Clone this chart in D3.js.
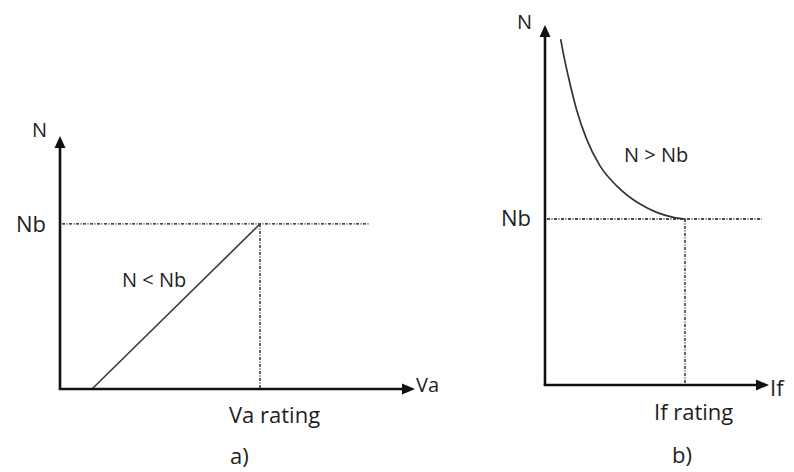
<!DOCTYPE html>
<html>
<head>
<meta charset="utf-8">
<script src="https://cdn.jsdelivr.net/npm/d3@7"></script>
<style>
  html, body { margin: 0; padding: 0; background: #fff; }
  svg { display: block; }
  text { font-family: "Open Sans", "Liberation Sans", sans-serif; fill: #1e1e1e; }
</style>
</head>
<body>
<svg id="chart" width="794" height="472"></svg>
<script>
// Per-unit values: rated armature voltage, rated field current and base speed are all 1.
const panelLabels = ["a)", "b)"];
const axisNamesA = ["Va", "N"];
const axisNamesB = ["If", "N"];
const ratingLabels = ["Va rating", "If rating"];
const baseSpeedLabel = "Nb";
const regionLabels = ["N < Nb", "N > Nb"];

const baseSpeed = 1.0;
const vaRating = 1.0;
const ifRating = 1.0;

// a) armature voltage control: speed rises linearly up to base speed
const armatureVa = [0.16, 1.0];
const armatureN = [0.0, 1.0];

// b) field weakening: speed rises above base speed as field current drops
const fieldIf = [0.112, 0.14, 0.167, 0.226, 0.298, 0.393, 0.512, 0.679, 0.798, 0.917, 1.0];
const fieldN = [2.084, 1.96, 1.857, 1.657, 1.48, 1.32, 1.2, 1.09, 1.04, 1.01, 1.0];

// axis extents (arrow tips) and reference line extents
const axisMaxA = [1.775, 1.533];
const axisMaxB = [1.6, 2.169];
const refEndA = 1.545;
const refEndB = 1.55;

const svg = d3.select("#chart");
const ink = "#111";

const xA = d3.scaleLinear().domain([0, axisMaxA[0]]).range([60, 415]);
const yA = d3.scaleLinear().domain([0, axisMaxA[1]]).range([389, 136]);
const xB = d3.scaleLinear().domain([0, 1]).range([545, 685]);
const yB = d3.scaleLinear().domain([0, axisMaxB[1]]).range([385, 25]);

function drawAxes(g, x, y, maxX, maxY) {
  const x0 = x(0), y0 = y(0), xt = x(maxX), yt = y(maxY);
  g.append("line").attr("x1", x0).attr("y1", y0).attr("x2", x0).attr("y2", yt + 8)
    .attr("stroke", ink).attr("stroke-width", 2.6);
  g.append("line").attr("x1", x0 - 1.3).attr("y1", y0).attr("x2", xt - 8).attr("y2", y0)
    .attr("stroke", ink).attr("stroke-width", 2.6);
  // arrowheads
  g.append("path")
    .attr("d", `M${x0},${yt} L${x0 - 5.5},${yt + 12} L${x0 + 5.5},${yt + 12} Z`)
    .attr("fill", ink);
  g.append("path")
    .attr("d", `M${xt},${y0} L${xt - 13},${y0 - 5.5} L${xt - 13},${y0 + 5.5} Z`)
    .attr("fill", ink);
}

function drawReference(g, x, y, rating, endX) {
  const dash = "3,1.5,1,1.5";
  g.append("line")
    .attr("x1", x(0) + 2).attr("y1", y(baseSpeed))
    .attr("x2", x(endX)).attr("y2", y(baseSpeed))
    .attr("stroke", ink).attr("stroke-width", 1.3).attr("stroke-dasharray", dash);
  g.append("line")
    .attr("x1", x(rating)).attr("y1", y(baseSpeed))
    .attr("x2", x(rating)).attr("y2", y(0) - 1)
    .attr("stroke", ink).attr("stroke-width", 1.3).attr("stroke-dasharray", dash);
}

function label(g, txt, px, py, size, anchor) {
  g.append("text").attr("x", px).attr("y", py)
    .attr("font-size", size).attr("text-anchor", anchor || "start").text(txt);
}

// ---- panel a
const ga = svg.append("g");
drawReference(ga, xA, yA, vaRating, refEndA);
ga.append("path")
  .datum(d3.zip(armatureVa, armatureN))
  .attr("d", d3.line().x(d => xA(d[0])).y(d => yA(d[1])))
  .attr("fill", "none").attr("stroke", "#3a3a3a").attr("stroke-width", 1.6);
drawAxes(ga, xA, yA, axisMaxA[0], axisMaxA[1]);

label(ga, axisNamesA[1], xA(0) - 28, yA(axisMaxA[1]) + 1, 20);
label(ga, baseSpeedLabel, xA(0) - 14, yA(baseSpeed) + 8, 22, "end");
label(ga, regionLabels[0], 122, 287, 20);
label(ga, axisNamesA[0], xA(axisMaxA[0]) + 1, yA(0) + 3, 20);
label(ga, ratingLabels[0], xA(vaRating) - 31, 423, 22);
label(ga, panelLabels[0], xA(vaRating) - 30, 464, 22);

// ---- panel b
const gb = svg.append("g");
drawReference(gb, xB, yB, ifRating, refEndB);
gb.append("path")
  .datum(d3.zip(fieldIf, fieldN))
  .attr("d", d3.line().curve(d3.curveMonotoneX).x(d => xB(d[0])).y(d => yB(d[1])))
  .attr("fill", "none").attr("stroke", "#333").attr("stroke-width", 1.7);
drawAxes(gb, xB, yB, axisMaxB[0], axisMaxB[1]);

label(gb, axisNamesB[1], xB(0) - 28, yB(axisMaxB[1]) + 4, 20);
label(gb, baseSpeedLabel, xB(0) - 14, yB(baseSpeed) + 7, 22, "end");
label(gb, regionLabels[1], 624, 162, 20);
label(gb, axisNamesB[0], xB(axisMaxB[0]) + 1, yB(0) + 11, 22);
label(gb, ratingLabels[1], xB(ifRating) - 31, 420, 22);
label(gb, panelLabels[1], xB(ifRating) - 13, 463, 22);
</script>
</body>
</html>
